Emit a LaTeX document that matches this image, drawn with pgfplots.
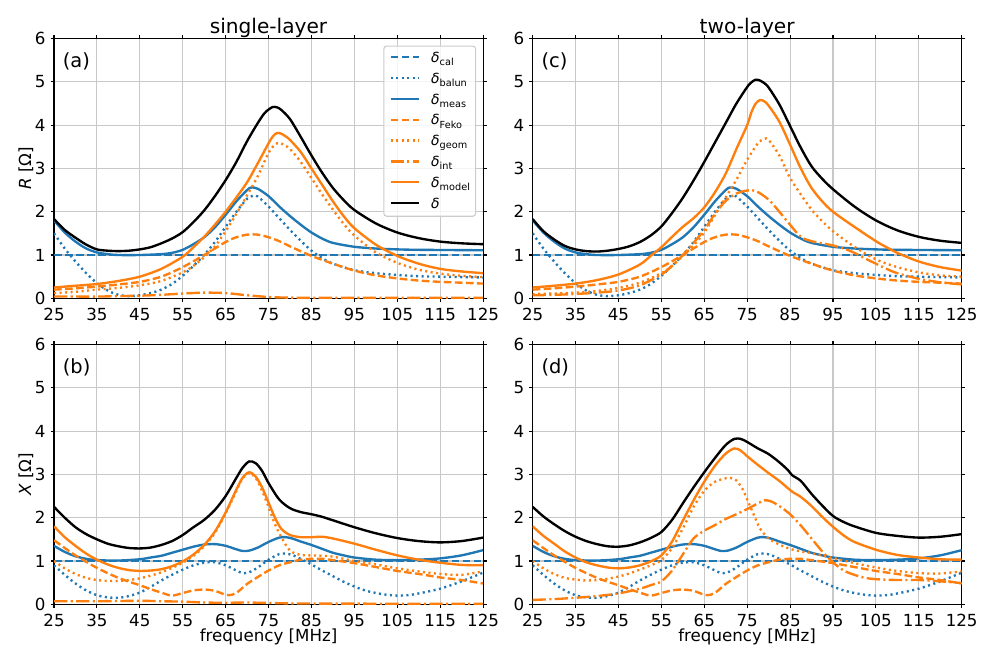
\documentclass[border=0pt]{standalone}
\usepackage{fontspec}
\setmainfont{DejaVu Sans}
\usepackage{pgfplots}
\usepackage{pgfplotstable}
\pgfplotsset{compat=1.18}

\definecolor{tabblue}{HTML}{1F77B4}
\definecolor{taborange}{HTML}{FF7F0E}
\definecolor{gridgray}{HTML}{C8C8C8}

\newcommand{\dsub}[1]{\textit{δ}\raisebox{-2.2pt}{\fontsize{7}{8}\selectfont #1}}

% ---------- R, shared by (a) and (c)
\pgfplotstableread{
f v
25 1.50
27.5 1.15
30 0.85
32.5 0.58
35 0.35
37.5 0.18
40 0.08
42.5 0.05
45 0.07
47.5 0.12
50 0.20
52.5 0.33
55 0.52
57.5 0.75
60 1.00
62.5 1.30
65 1.65
67.5 2.00
70 2.30
71.5 2.37
72.5 2.35
75 2.12
77.5 1.85
80 1.58
82.5 1.33
85 1.10
87.5 0.93
90 0.80
95 0.65
100 0.58
105 0.54
110 0.51
115 0.50
120 0.49
125 0.48
}\Rbalun

\pgfplotstableread{
f v
25 1.80
27.5 1.52
30 1.31
32.5 1.15
35 1.06
37.5 1.02
40 1.00
45 1.00
50 1.02
52.5 1.05
55 1.12
57.5 1.25
60 1.41
62.5 1.64
65 1.93
67.5 2.24
70 2.50
71 2.56
72.5 2.53
75 2.36
77.5 2.12
80 1.90
82.5 1.70
85 1.52
87.5 1.38
90 1.28
95 1.19
100 1.15
105 1.13
110 1.12
125 1.11
}\Rmeas

\pgfplotstableread{
f v
25 0.20
30 0.23
35 0.27
40 0.32
45 0.38
50 0.50
55 0.72
60 1.00
65 1.30
67.5 1.41
70 1.47
72.5 1.47
75 1.41
77.5 1.32
80 1.20
85 0.98
90 0.80
95 0.64
100 0.53
105 0.46
110 0.41
115 0.38
120 0.36
125 0.34
}\Rfeko

% ---------- (a) single-layer R
\pgfplotstableread{
f v
25 0.12
30 0.15
35 0.20
40 0.24
45 0.30
50 0.40
55 0.60
57.5 0.75
60 0.95
62.5 1.20
65 1.55
67.5 1.95
70 2.38
72.5 2.82
75 3.36
76.5 3.55
77.5 3.59
78.5 3.55
80 3.45
82.5 3.15
85 2.78
87.5 2.40
90 2.05
92.5 1.72
95 1.45
100 1.06
105 0.82
110 0.66
115 0.57
120 0.52
125 0.49
}\Ageom

\pgfplotstableread{
f v
25 0.04
30 0.04
35 0.04
40 0.05
45 0.06
50 0.08
55 0.11
60 0.13
65 0.12
70 0.07
75 0.03
80 0.015
90 0.01
125 0.01
}\Aint

\pgfplotstableread{
f v
25 0.25
30 0.29
35 0.33
40 0.40
45 0.50
50 0.68
55 0.96
57.5 1.18
60 1.42
62.5 1.70
65 2.00
67.5 2.33
70 2.68
72.5 3.12
75 3.58
76 3.74
77 3.82
78 3.80
79 3.74
80 3.66
82.5 3.38
85 3.00
87.5 2.62
90 2.24
92.5 1.90
95 1.62
100 1.24
105 0.98
110 0.80
115 0.68
120 0.62
125 0.58
}\Amodel

\pgfplotstableread{
f v
25 1.83
27.5 1.58
30 1.40
32.5 1.24
35 1.13
37.5 1.10
40 1.09
42.5 1.10
45 1.13
47.5 1.18
50 1.27
52.5 1.38
55 1.53
57.5 1.76
60 2.03
62.5 2.36
65 2.73
67.5 3.15
70 3.63
72.5 4.05
74 4.27
75 4.36
76 4.42
77 4.41
78 4.35
80 4.14
82.5 3.73
85 3.30
87.5 2.90
90 2.55
92.5 2.27
95 2.04
100 1.73
105 1.52
110 1.39
115 1.31
120 1.27
125 1.25
}\Atot

% ---------- (c) two-layer R
\pgfplotstableread{
f v
25 0.10
30 0.11
35 0.13
40 0.17
45 0.24
50 0.36
55 0.58
57.5 0.75
60 0.98
62.5 1.22
65 1.52
67.5 1.92
70 2.33
72.5 2.74
75 3.20
77.5 3.58
79 3.68
80 3.66
82.5 3.30
85 2.78
87.5 2.40
90 2.05
92.5 1.78
95 1.55
100 1.19
105 0.90
110 0.72
115 0.60
120 0.53
125 0.50
}\Cgeom

\pgfplotstableread{
f v
25 0.07
30 0.08
35 0.10
40 0.13
45 0.18
50 0.30
55 0.55
57.5 0.75
60 1.00
62.5 1.28
65 1.58
67.5 1.95
70 2.25
72.5 2.42
75 2.49
77 2.48
80 2.28
82.5 2.00
85 1.70
87.5 1.42
90 1.32
92.5 1.27
95 1.22
97.5 1.15
100 1.05
102.5 0.92
105 0.80
107.5 0.68
110 0.58
115 0.45
120 0.37
125 0.32
}\Cint

\pgfplotstableread{
f v
25 0.25
30 0.29
35 0.34
40 0.42
45 0.55
50 0.78
52.5 0.98
55 1.18
57.5 1.42
60 1.65
62.5 1.85
65 2.10
67.5 2.45
70 2.88
72.5 3.45
75 4.00
76 4.30
77 4.50
78 4.58
79 4.55
80 4.45
82.5 4.08
85 3.55
87.5 3.00
90 2.55
92.5 2.24
95 2.00
100 1.65
105 1.32
107.5 1.18
110 1.05
115 0.85
120 0.72
125 0.64
}\Cmodel

\pgfplotstableread{
f v
25 1.83
27.5 1.55
30 1.36
32.5 1.21
35 1.13
37.5 1.09
40 1.08
42.5 1.10
45 1.14
47.5 1.20
50 1.30
52.5 1.45
55 1.66
57.5 1.97
60 2.32
62.5 2.72
65 3.15
67.5 3.60
70 4.05
72.5 4.50
75 4.88
76 4.99
77 5.05
78 5.03
79 4.97
80 4.87
82.5 4.48
85 3.98
87.5 3.48
90 3.05
92.5 2.76
95 2.52
100 2.12
105 1.80
110 1.57
115 1.42
120 1.33
125 1.28
}\Ctot

% ---------- X, shared by (b) and (d)
\pgfplotstableread{
f v
25 0.90
27.5 0.68
30 0.48
32.5 0.32
35 0.21
37.5 0.16
40 0.15
42.5 0.19
45 0.27
47.5 0.40
50 0.55
52.5 0.68
55 0.80
57.5 0.90
60 0.96
62.5 0.97
65 0.90
67.5 0.78
69 0.72
70.5 0.74
72.5 0.85
75 1.03
77.5 1.16
79 1.17
80.5 1.14
82.5 1.05
85 0.92
87.5 0.78
90 0.65
92.5 0.52
95 0.41
97.5 0.32
100 0.26
102.5 0.22
105 0.20
107.5 0.21
110 0.25
115 0.36
120 0.53
125 0.73
}\Xbalun

\pgfplotstableread{
f v
25 1.35
27.5 1.21
30 1.11
32.5 1.05
35 1.02
40 1.01
45 1.04
47.5 1.08
50 1.12
52.5 1.19
55 1.26
57.5 1.33
60 1.38
62.5 1.39
65 1.35
67.5 1.27
69 1.23
70.5 1.24
72.5 1.31
75 1.44
77.5 1.54
79 1.55
80.5 1.52
82.5 1.45
85 1.37
87.5 1.28
90 1.19
92.5 1.13
95 1.08
100 1.03
105 1.02
110 1.03
115 1.06
120 1.13
125 1.25
}\Xmeas

\pgfplotstableread{
f v
25 1.48
27.5 1.30
30 1.13
32.5 0.98
35 0.84
37.5 0.72
40 0.61
42.5 0.52
45 0.44
47.5 0.35
50 0.27
52.5 0.20
55 0.26
57.5 0.32
60 0.34
62.5 0.31
65 0.22
66.5 0.22
68 0.30
70 0.47
72.5 0.63
75 0.78
77.5 0.90
80 0.97
82.5 1.03
85 1.05
87.5 1.05
90 1.02
95 0.95
100 0.86
105 0.77
110 0.70
115 0.62
120 0.56
125 0.48
}\Xfeko

% ---------- (b) single-layer X
\pgfplotstableread{
f v
25 1.00
27.5 0.83
30 0.70
32.5 0.61
35 0.56
37.5 0.54
40 0.54
42.5 0.56
45 0.60
47.5 0.66
50 0.74
52.5 0.84
55 0.96
57.5 1.12
60 1.34
62.5 1.65
65 2.10
67.5 2.62
69 2.92
70.5 3.03
72 2.92
73.5 2.62
75 2.25
76.5 1.85
78 1.55
80 1.24
82.5 1.14
85 1.13
87.5 1.12
90 1.10
95 1.00
100 0.92
105 0.83
110 0.76
115 0.70
120 0.68
125 0.76
}\Bgeom

\pgfplotstableread{
f v
25 0.07
35 0.07
45 0.08
50 0.07
55 0.06
60 0.04
65 0.035
70 0.04
75 0.03
80 0.02
90 0.015
125 0.01
}\Bint

\pgfplotstableread{
f v
25 1.80
27.5 1.55
30 1.35
32.5 1.17
35 1.03
37.5 0.92
40 0.84
42.5 0.79
45 0.77
47.5 0.78
50 0.81
52.5 0.88
55 0.99
57.5 1.15
60 1.37
62.5 1.68
65 2.12
67.5 2.65
69 2.93
70.5 3.05
72 2.95
73.5 2.70
75 2.35
76.5 2.00
78 1.74
80 1.60
82.5 1.55
85 1.55
87.5 1.56
90 1.52
95 1.40
100 1.26
105 1.13
110 1.03
115 0.96
120 0.91
125 0.90
}\Bmodel

\pgfplotstableread{
f v
25 2.25
27.5 2.00
30 1.78
32.5 1.62
35 1.50
37.5 1.40
40 1.34
42.5 1.30
45 1.29
47.5 1.31
50 1.37
52.5 1.46
55 1.60
57.5 1.78
60 1.95
62.5 2.18
65 2.50
67.5 2.92
69 3.16
70.5 3.30
72 3.26
73.5 3.08
75 2.80
77.5 2.42
80 2.22
82.5 2.13
85 2.08
87.5 2.02
90 1.94
95 1.78
100 1.64
105 1.53
110 1.46
115 1.43
120 1.46
125 1.54
}\Btot

% ---------- (d) two-layer X
\pgfplotstableread{
f v
25 1.00
27.5 0.83
30 0.70
32.5 0.61
35 0.57
37.5 0.55
40 0.56
42.5 0.59
45 0.64
47.5 0.71
50 0.80
52.5 0.90
55 1.02
57.5 1.30
60 1.75
62.5 2.25
65 2.62
67.5 2.83
70 2.91
71 2.92
72.5 2.86
74 2.65
75 2.42
76.5 2.08
78 1.75
80 1.52
82.5 1.38
85 1.28
87.5 1.22
90 1.18
95 1.07
100 0.95
105 0.85
110 0.77
115 0.72
120 0.71
125 0.76
}\Dgeom

\pgfplotstableread{
f v
25 0.10
30 0.12
35 0.15
40 0.19
45 0.25
50 0.36
52.5 0.44
55 0.53
57.5 0.78
60 1.15
62.5 1.52
65 1.70
67.5 1.83
70 1.97
72.5 2.08
75 2.20
77.5 2.33
79 2.40
80.5 2.38
82.5 2.27
85 2.08
87.5 1.82
90 1.52
92.5 1.22
95 0.97
97.5 0.78
100 0.68
102.5 0.61
105 0.58
110 0.56
115 0.56
120 0.53
125 0.49
}\Dint

\pgfplotstableread{
f v
25 1.80
27.5 1.58
30 1.40
32.5 1.22
35 1.08
37.5 0.97
40 0.90
42.5 0.85
45 0.83
47.5 0.85
50 0.90
52.5 0.99
55 1.13
57.5 1.45
60 1.93
62.5 2.40
65 2.83
67.5 3.20
70 3.48
72 3.60
73.5 3.55
75 3.42
77.5 3.22
80 3.03
82.5 2.85
84.5 2.68
85.5 2.60
87.5 2.48
90 2.27
92.5 2.02
95 1.79
97.5 1.59
100 1.44
105 1.26
110 1.14
115 1.08
120 1.04
125 1.03
}\Dmodel

\pgfplotstableread{
f v
25 2.25
27.5 2.03
30 1.85
32.5 1.69
35 1.56
37.5 1.46
40 1.39
42.5 1.34
45 1.33
47.5 1.36
50 1.43
52.5 1.53
55 1.67
57.5 1.95
60 2.33
62.5 2.70
65 3.05
67.5 3.38
70 3.68
72 3.82
73.5 3.82
75 3.75
77.5 3.60
80 3.47
82.5 3.28
84.5 3.10
85.5 2.98
87.5 2.85
90 2.55
92.5 2.28
95 2.04
97.5 1.90
100 1.80
105 1.65
110 1.58
115 1.54
120 1.56
125 1.62
}\Dtot

\tikzset{plabel/.style={anchor=west, inner sep=0pt, font=\fontsize{14}{16}\selectfont}}

\pgfplotsset{
  cal/.style={tabblue, line width=1.7pt, dash pattern=on 5.55pt off 2.4pt},
  balun/.style={tabblue, line width=1.7pt, dash pattern=on 1.5pt off 2.475pt, smooth},
  meas/.style={tabblue, line width=1.7pt, solid, smooth},
  feko/.style={taborange, line width=1.7pt, dash pattern=on 5.55pt off 2.4pt, smooth},
  geom/.style={taborange, line width=1.7pt, dash pattern=on 1.5pt off 2.475pt, smooth},
  int/.style={taborange, line width=1.7pt, dash pattern=on 9.6pt off 2.4pt on 1.5pt off 2.4pt, smooth},
  model/.style={taborange, line width=1.7pt, solid, smooth},
  tot/.style={black, line width=1.7pt, solid, smooth},
  panel/.style={
    scale only axis, width=308.9pt, height=187pt,
    xmin=25, xmax=125, ymin=0, ymax=6,
    xtick={25,35,...,125}, ytick={0,1,...,6},
    xticklabels={25,35,45,55,65,75,85,95,105,115,125},
    yticklabels={0,1,2,3,4,5,6},
    grid=major,
    major grid style={draw=gridgray, line width=0.8pt},
    axis line style={line width=0.8pt},
    tick align=outside,
    major tick length=2.5pt,
    every tick/.style={black, line width=0.8pt},
    tick label style={font=\fontsize{12}{14}\selectfont, inner sep=0pt},
    xticklabel style={anchor=base, yshift=-13.2pt},
    yticklabel style={anchor=east, xshift=-3.4pt},
    every axis title/.style={at={(0.5,1)}, anchor=base, yshift=3.4pt,
      inner sep=0pt, font=\fontsize{14.5}{17}\selectfont},
    every axis x label/.style={at={(axis description cs:0.5,0)}, anchor=base,
      yshift=-27.1pt, inner sep=0pt, font=\fontsize{12}{14}\selectfont},
    every axis y label/.style={at={(axis description cs:-0.0657,0.5)}, rotate=90,
      anchor=center, inner sep=0pt, font=\fontsize{12}{14}\selectfont},
  },
}

\begin{document}
\begin{tikzpicture}
\path[use as bounding box] (0pt,0pt) rectangle (717.12pt,478.08pt);

% (a) single-layer, R
\begin{axis}[panel, at={(38.9pt,263.3pt)}, anchor=south west,
    title={single-layer}, ylabel={\textit{R} [Ω]},
    legend style={at={(1,1)}, xshift=-5pt, yshift=-5pt, anchor=north east,
      draw=black!20, line width=0.8pt, rounded corners=2pt,
      fill=white, fill opacity=0.8, draw opacity=1, text opacity=1,
      font=\fontsize{10}{12}\selectfont, inner xsep=4pt, inner ysep=3.5pt,
      row sep=4.5pt, column sep=8pt,
      nodes={inner sep=0pt, text height=8.3pt, text depth=2.2pt, anchor=west}},
    legend cell align=left,
    legend image code/.code={\draw[#1, sharp plot] (0pt,0.75pt) -- (20.4pt,0.75pt);},
  ]
  \addplot[cal] coordinates {(25,1) (125,1)};
  \addplot[balun] table[x=f,y=v] {\Rbalun};
  \addplot[meas] table[x=f,y=v] {\Rmeas};
  \addplot[feko] table[x=f,y=v] {\Rfeko};
  \addplot[geom] table[x=f,y=v] {\Ageom};
  \addplot[int] table[x=f,y=v] {\Aint};
  \addplot[model] table[x=f,y=v] {\Amodel};
  \addplot[tot] table[x=f,y=v] {\Atot};
  \legend{\dsub{cal},\dsub{balun},\dsub{meas},\dsub{Feko},\dsub{geom},\dsub{int},\dsub{model},\textit{δ}}
  \node[plabel] at (rel axis cs:0.02,0.913) {(a)};
\end{axis}

% (c) two-layer, R
\begin{axis}[panel, at={(383.5pt,263.3pt)}, anchor=south west,
    title={two-layer}]
  \addplot[cal] coordinates {(25,1) (125,1)};
  \addplot[balun] table[x=f,y=v] {\Rbalun};
  \addplot[meas] table[x=f,y=v] {\Rmeas};
  \addplot[feko] table[x=f,y=v] {\Rfeko};
  \addplot[geom] table[x=f,y=v] {\Cgeom};
  \addplot[int] table[x=f,y=v] {\Cint};
  \addplot[model] table[x=f,y=v] {\Cmodel};
  \addplot[tot] table[x=f,y=v] {\Ctot};
  \node[plabel] at (rel axis cs:0.02,0.913) {(c)};
\end{axis}

% (b) single-layer, X
\begin{axis}[panel, at={(38.9pt,43pt)}, anchor=south west,
    xlabel={frequency [MHz]}, ylabel={\textit{X} [Ω]}]
  \addplot[cal] coordinates {(25,1) (125,1)};
  \addplot[balun] table[x=f,y=v] {\Xbalun};
  \addplot[meas] table[x=f,y=v] {\Xmeas};
  \addplot[feko] table[x=f,y=v] {\Xfeko};
  \addplot[geom] table[x=f,y=v] {\Bgeom};
  \addplot[int] table[x=f,y=v] {\Bint};
  \addplot[model] table[x=f,y=v] {\Bmodel};
  \addplot[tot] table[x=f,y=v] {\Btot};
  \node[plabel] at (rel axis cs:0.02,0.913) {(b)};
\end{axis}

% (d) two-layer, X
\begin{axis}[panel, at={(383.5pt,43pt)}, anchor=south west,
    xlabel={frequency [MHz]}]
  \addplot[cal] coordinates {(25,1) (125,1)};
  \addplot[balun] table[x=f,y=v] {\Xbalun};
  \addplot[meas] table[x=f,y=v] {\Xmeas};
  \addplot[feko] table[x=f,y=v] {\Xfeko};
  \addplot[geom] table[x=f,y=v] {\Dgeom};
  \addplot[int] table[x=f,y=v] {\Dint};
  \addplot[model] table[x=f,y=v] {\Dmodel};
  \addplot[tot] table[x=f,y=v] {\Dtot};
  \node[plabel] at (rel axis cs:0.02,0.913) {(d)};
\end{axis}
\end{tikzpicture}
\end{document}
